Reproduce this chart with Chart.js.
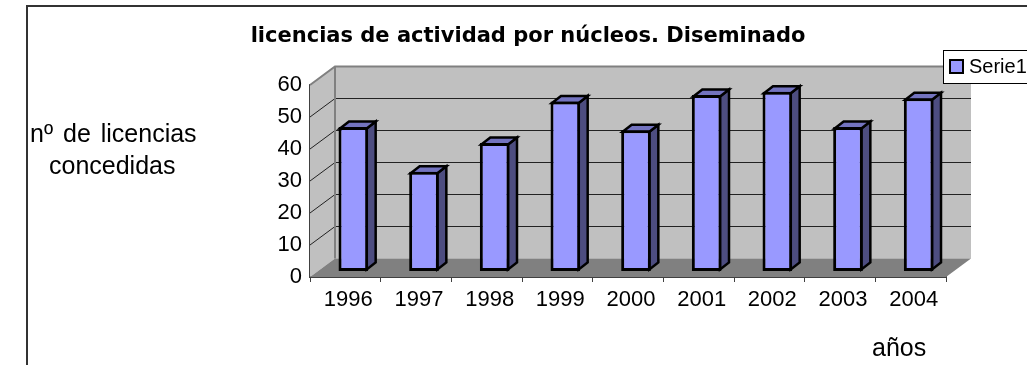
<!DOCTYPE html>
<html>
<head>
<meta charset="utf-8">
<script src="https://cdn.jsdelivr.net/npm/chart.js@4"></script>
<style>
  html, body { margin: 0; background: #fff; overflow: hidden; width: 1027px; height: 365px; }
  #frame { position: absolute; left: 26px; top: 5px; width: 1010px; height: 370px; border-left: 2px solid #333; border-top: 2px solid #333; }
  #box { position: absolute; left: 26px; top: 6px; width: 1004px; height: 359px; }
</style>
</head>
<body>
<div id="frame"></div>
<div id="box"><canvas id="chart"></canvas></div>
<script>
const years = ['1996', '1997', '1998', '1999', '2000', '2001', '2002', '2003', '2004'];
const licencias = [45, 31, 40, 53, 44, 55, 56, 45, 54];
const yTicks = [0, 10, 20, 30, 40, 50, 60];
const serieName = 'Serie1';
const chartTitle = 'licencias de actividad por núcleos. Diseminado';

const font = 'Liberation Sans, Arial, sans-serif';
const depth = { x: 25, y: 18.5 };   // fondo de la caja 3D
const barShift = { x: 8, y: 6 };    // las barras van un poco detrás del eje
const barDepth = { x: 9, y: 7 };

function poly(ctx, pts, fill, stroke, lw) {
  ctx.beginPath();
  pts.forEach((p, i) => i ? ctx.lineTo(p[0], p[1]) : ctx.moveTo(p[0], p[1]));
  ctx.closePath();
  if (fill) { ctx.fillStyle = fill; ctx.fill(); }
  if (stroke) { ctx.strokeStyle = stroke; ctx.lineWidth = lw; ctx.lineJoin = 'miter'; ctx.stroke(); }
}

const box3d = {
  id: 'box3d',
  afterLayout(chart) {
    // el título se centra en todo el gráfico, no en el hueco que deja el padding
    chart.titleBlock.left = 0;
    chart.titleBlock.right = chart.width;
  },
  beforeDatasetsDraw(chart) {
    const { ctx, chartArea: a, scales: { y } } = chart;
    const dx = depth.x, dy = depth.y;
    ctx.save();
    poly(ctx, [[a.left + dx, a.top - dy], [a.right + dx, a.top - dy], [a.right + dx, a.bottom - dy], [a.left + dx, a.bottom - dy]], '#c0c0c0');
    poly(ctx, [[a.left, a.top], [a.left + dx, a.top - dy], [a.left + dx, a.bottom - dy], [a.left, a.bottom]], '#c0c0c0');
    poly(ctx, [[a.left, a.bottom], [a.left + dx, a.bottom - dy], [a.right + dx, a.bottom - dy], [a.right, a.bottom]], '#808080');

    // líneas de división: pared izquierda y pared del fondo
    ctx.strokeStyle = '#222';
    ctx.lineWidth = 1;
    yTicks.slice(1, -1).forEach(v => {
      const py = y.getPixelForValue(v);
      ctx.beginPath();
      ctx.moveTo(a.left, py);
      ctx.lineTo(a.left + dx, py - dy);
      ctx.lineTo(a.right + dx, py - dy);
      ctx.stroke();
    });

    // borde gris de las paredes
    ctx.strokeStyle = '#808080';
    ctx.lineWidth = 2;
    ctx.beginPath();
    ctx.moveTo(a.left, a.top);
    ctx.lineTo(a.left + dx, a.top - dy);
    ctx.lineTo(a.right + dx, a.top - dy);
    ctx.moveTo(a.left + dx, a.top - dy);
    ctx.lineTo(a.left + dx, a.bottom - dy);
    ctx.stroke();

    // caras lateral y superior de cada barra
    ctx.translate(barShift.x, -barShift.y);
    chart.getDatasetMeta(0).data.forEach(bar => {
      const r = bar.x + bar.width / 2 - 1.5, l = bar.x - bar.width / 2 + 1.5;
      const t = bar.y + 1.5, b = bar.base - 1.5;
      const ox = barDepth.x, oy = barDepth.y;
      poly(ctx, [[r, t], [r + ox, t - oy], [r + ox, b - oy], [r, b]], '#4d4d80', '#000', 2.5);
      poly(ctx, [[l, t], [l + ox, t - oy], [r + ox, t - oy], [r, t]], '#7373bf', '#000', 2.5);
    });
    ctx.translate(-barShift.x, barShift.y);

    // las barras se dibujan desplazadas, se restaura en afterDatasetsDraw
    ctx.restore();
    ctx.save();
    ctx.translate(barShift.x, -barShift.y);
  },
  afterDatasetsDraw(chart) {
    chart.ctx.restore();
  },
  afterDraw(chart) {
    const { ctx } = chart;
    ctx.save();
    ctx.fillStyle = '#000';
    ctx.font = '25px ' + font;
    ctx.textBaseline = 'middle';
    ctx.textAlign = 'left';
    ctx.wordSpacing = '3px';
    ctx.fillText('nº de licencias', 4, 129);
    ctx.wordSpacing = '0px';
    ctx.fillText('concedidas', 23, 161);
    ctx.fillText('años', 846, 343);

    // leyenda
    ctx.font = '20px ' + font;
    ctx.fillStyle = '#fff';
    ctx.strokeStyle = '#000';
    ctx.lineWidth = 1;
    ctx.fillRect(917.5, 44.5, 90, 33);
    ctx.strokeRect(917.5, 44.5, 90, 33);
    ctx.fillStyle = '#9999ff';
    ctx.lineWidth = 2;
    ctx.fillRect(924, 54, 13, 13);
    ctx.strokeRect(924, 54, 13, 13);
    ctx.fillStyle = '#000';
    ctx.fillText(chart.data.datasets[0].label, 943, 61);
    ctx.restore();
  }
};

new Chart(document.getElementById('chart'), {
  type: 'bar',
  data: {
    labels: years,
    datasets: [{
      label: serieName,
      data: licencias,
      backgroundColor: '#9999ff',
      borderColor: '#000',
      borderWidth: 3,
      borderSkipped: false,
      barPercentage: 0.42,
      categoryPercentage: 1,
      clip: false
    }]
  },
  options: {
    responsive: true,
    maintainAspectRatio: false,
    animation: false,
    layout: { autoPadding: false, padding: { left: 244, right: 84, top: 0, bottom: 58 } },
    plugins: {
      legend: { display: false },
      tooltip: { enabled: false },
      title: {
        display: true,
        text: chartTitle,
        color: '#000',
        font: { family: 'DejaVu Sans', size: 21, weight: 'bold', lineHeight: 1.2 },
        padding: { top: 18, bottom: 35.8 }
      }
    },
    scales: {
      x: {
        afterFit(s) { s.height = 30; },
        border: { color: '#404040', width: 2 },
        grid: { drawOnChartArea: false, color: '#404040', tickLength: 5, lineWidth: 1 },
        ticks: { color: '#000', font: { family: font, size: 22 }, maxRotation: 0, labelOffset: 3, padding: 5 }
      },
      y: {
        afterFit(s) { s.width = 40; },
        min: 0,
        max: yTicks[yTicks.length - 1],
        border: { color: '#404040', width: 2 },
        grid: { display: false },
        ticks: { color: '#000', font: { family: font, size: 22 }, stepSize: 10, padding: 0 }
      }
    }
  },
  plugins: [box3d]
});
</script>
</body>
</html>
